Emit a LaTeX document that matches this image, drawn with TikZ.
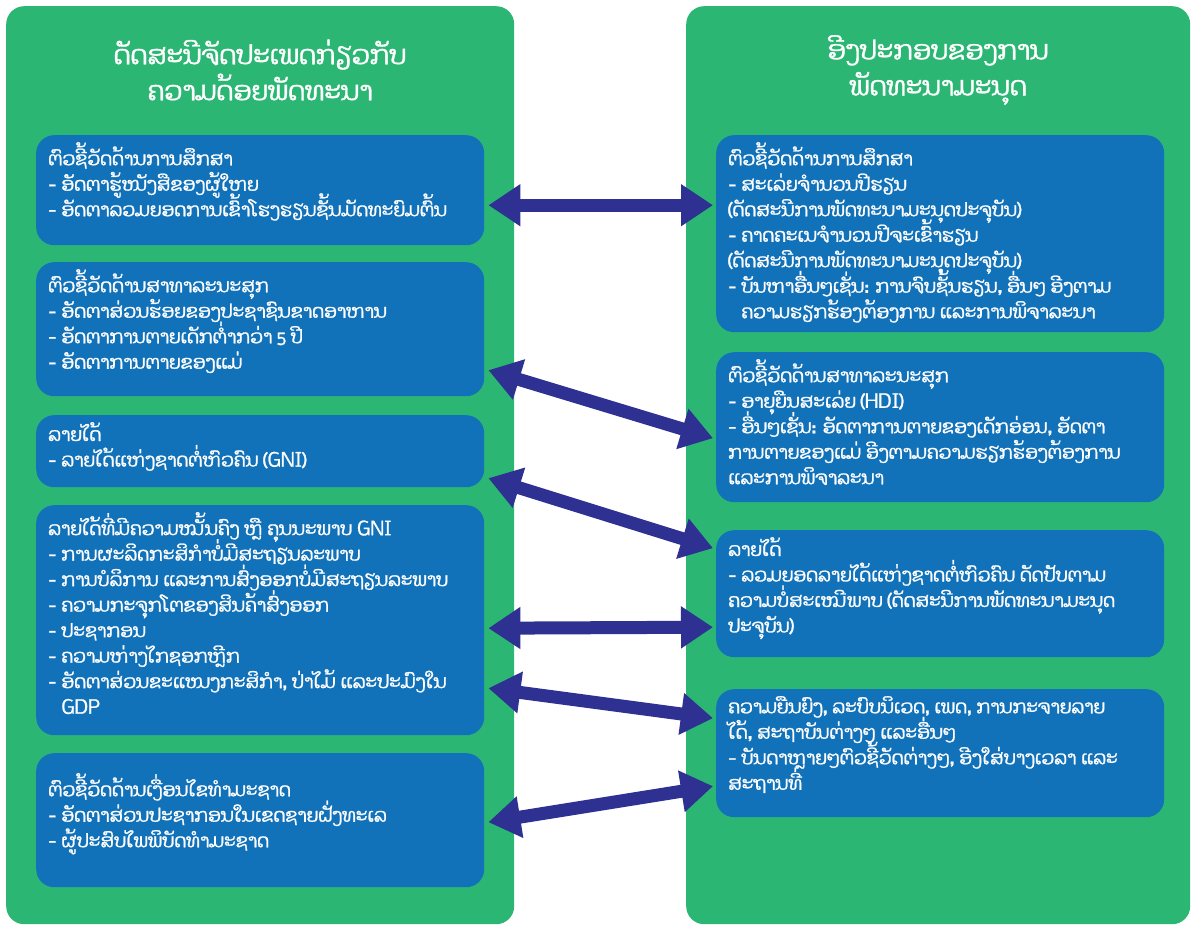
\documentclass[tikz,border=0pt]{standalone}
\usepackage{fontspec}
\setmainfont[Script=Lao, AutoFakeBold=1.3]{Dhyana}
\usetikzlibrary{arrows.meta,calc}
\definecolor{panelgreen}{RGB}{44,182,116}
\definecolor{boxblue}{RGB}{17,114,186}
\definecolor{linknavy}{RGB}{46,49,146}
% top-aligned text block of fixed height inside a box
\newcommand{\boxtext}[2]{\parbox[t][#1][t]{424pt}{\raggedright\lineskiplimit=-20pt #2}}

\begin{document}
\begin{tikzpicture}[x=1pt, y=-1pt,
    panel/.style = {fill=panelgreen, rounded corners=18pt, anchor=north west, inner sep=0pt},
    box/.style = {fill=boxblue, rounded corners=18pt, anchor=north west, inner xsep=12pt, inner ysep=7pt,
                  text=white, font=\fontsize{18.7}{25.5}\selectfont\bfseries},
    title/.style = {text=white, align=center, font=\fontsize{26.5}{36}\selectfont\bfseries},
    link/.style = {linknavy, line width=13pt, {Triangle[width=40pt,length=32pt]}-{Triangle[width=40pt,length=32pt]}}]
    \useasboundingbox (0,0) rectangle (1191,928);
    \fill[white] (0,0) rectangle (1191,928);

    % two columns
    \node[panel, minimum width=508pt, minimum height=918pt] (leftpanel)  at (6,6)   {};
    \node[panel, minimum width=504pt, minimum height=918pt] (rightpanel) at (686,6) {};
    \node[title] (lefttitle)  at (260,70) {ດັດສະນີຈັດປະເພດກ່ຽວກັບ\\ຄວາມດ້ອຍພັດທະນາ};
    \node[title] (righttitle) at (938,70) {ອີງປະກອບຂອງການ\\ພັດທະນາມະນຸດ};

    % left boxes
    \node[box] (L1) at (36,135) {\boxtext{96pt}{ຕົວຊີ້ວັດດ້ານການສຶກສາ\\
        - ອັດຕາຮູ້ໜັງສືຂອງຜູ້ໃຫຍ\\
        - ອັດຕາລວມຍອດການເຂົ້າໂຮງຮຽນຊັ້ນມັດທະຍົມຕົ້ນ}};
    \node[box] (L2) at (36,262) {\boxtext{120pt}{ຕົວຊີ້ວັດດ້ານສາທາລະນະສຸກ\\
        - ອັດຕາສ່ວນຮ້ອຍຂອງປະຊາຊົນຂາດອາຫານ\\
        - ອັດຕາການຕາຍເດັກຕ່ຳກວ່າ 5 ປີ\\
        - ອັດຕາການຕາຍຂອງແມ່}};
    \node[box] (L3) at (36,415) {\boxtext{58pt}{ລາຍໄດ້\\
        - ລາຍໄດ້ແຫ່ງຊາດຕໍ່ຫົວຄົນ (GNI)}};
    \node[box] (L4) at (36,505) {\boxtext{216pt}{ລາຍໄດ້ທີ່ມີຄວາມໝັ້ນຄົງ ຫຼື ຄຸນນະພາບ GNI\\
        - ການຜະລິດກະສິກຳບໍ່ມີສະຖຽນລະພາບ\\
        - ການບໍລິການ ແລະການສົ່ງອອກບໍ່ມີສະຖຽນລະພາບ\\
        - ຄວາມກະຈຸກໂຕຂອງສິນຄ້າສົ່ງອອກ\\
        - ປະຊາກອນ\\
        - ຄວາມຫ່າງໄກຊອກຫຼີກ\\
        - ອັດຕາສ່ວນຂະແໜງກະສິກຳ, ປ່າໄມ້ ແລະປະມົງໃນ\\
        \phantom{- }GDP}};
    \node[box] (L5) at (36,753) {\boxtext{120pt}{\vspace*{13pt}ຕົວຊີ້ວັດດ້ານເງື່ອນໄຂທຳມະຊາດ\\
        - ອັດຕາສ່ວນປະຊາກອນໃນເຂດຊາຍຝັ່ງທະເລ\\
        - ຜູ້ປະສົບໄພພິບັດທຳມະຊາດ}};

    % right boxes
    \node[box] (R1) at (716,135) {\boxtext{183pt}{ຕົວຊີ້ວັດດ້ານການສຶກສາ\\
        - ສະເລ່ຍຈຳນວນປີຮຽນ\\
        (ດັດສະນີການພັດທະນາມະນຸດປະຈຸບັນ)\\
        - ຄາດຄະເນຈຳນວນປີຈະເຂົ້າຮຽນ\\
        (ດັດສະນີການພັດທະນາມະນຸດປະຈຸບັນ)\\
        - ບັນຫາອື່ນໆເຊັ່ນ: ການຈົບຊັ້ນຮຽນ, ອື່ນໆ ອີງຕາມ\\
        \phantom{- }ຄວາມຮຽກຮ້ອງຕ້ອງການ ແລະການພິຈາລະນາ}};
    \node[box] (R2) at (716,352) {\boxtext{136pt}{ຕົວຊີ້ວັດດ້ານສາທາລະນະສຸກ\\
        - ອາຍຸຍືນສະເລ່ຍ (HDI)\\
        - ອື່ນໆເຊັ່ນ: ອັດຕາການຕາຍຂອງເດັກອ່ອນ, ອັດຕາ\\
        ການຕາຍຂອງແມ່ ອີງຕາມຄວາມຮຽກຮ້ອງຕ້ອງການ\\
        ແລະການພິຈາລະນາ}};
    \node[box] (R3) at (716,530) {\boxtext{113pt}{ລາຍໄດ້\\
        - ລວມຍອດລາຍໄດ້ແຫ່ງຊາດຕໍ່ຫົວຄົນ ດັດປັບຕາມ\\
        ຄວາມບໍ່ສະເໝີພາບ (ດັດສະນີການພັດທະນາມະນຸດ\\
        ປະຈຸບັນ)}};
    \node[box] (R4) at (716,689) {\boxtext{114pt}{ຄວາມຍືນຍົງ, ລະບົບນິເວດ, ເພດ, ການກະຈາຍລາຍ\\
        ໄດ້, ສະຖາບັນຕ່າງໆ ແລະອື່ນໆ\\
        - ບັນດາຫຼາຍໆຕົວຊີ້ວັດຕ່າງໆ, ອີງໃສ່ບາງເວລາ ແລະ\\
        ສະຖານທີ່}};

    % links between the columns
    \draw[link] ($(L1.east)+(4,15)$)  -- ($(R1.west)+(-3,-28.5)$);
    \draw[link] ($(L2.east)+(4,41)$)  -- ($(R2.west)+(-3,11)$);
    \draw[link] ($(L3.east)+(4,27)$)  -- ($(R3.west)+(-3,-45.5)$);
    \draw[link] ($(L4.east)+(4,8)$)   -- ($(R3.west)+(-3,33.5)$);
    \draw[link] ($(L4.east)+(4,68)$)  -- ($(R4.west)+(-3,-35)$);
    \draw[link] ($(L5.east)+(4,2)$)   -- ($(R4.west)+(-3,33)$);
\end{tikzpicture}
\end{document}
